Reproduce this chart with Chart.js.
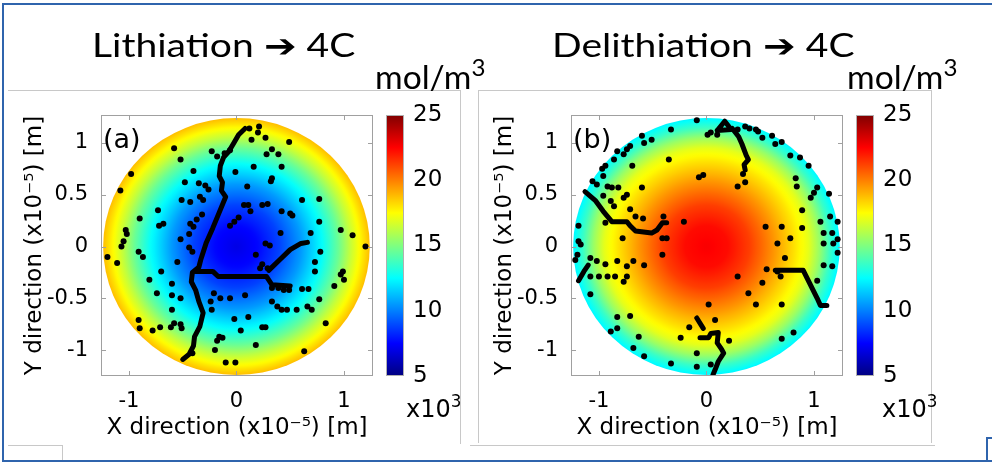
<!DOCTYPE html>
<html>
<head>
<meta charset="utf-8">
<script src="https://cdn.jsdelivr.net/npm/chart.js@4.4.0/dist/chart.umd.min.js"></script>
<style>
body { margin: 0; width: 992px; height: 462px; overflow: hidden; background: #fff; position: relative; font-family: "DejaVu Sans"; }
canvas { position: absolute; left: 0; top: 0; }
.txt { position: absolute; line-height: 1; white-space: nowrap; color: #000; }
.head { font-family: Lato; font-size: 32px; transform: scaleX(1.22); transform-origin: left top; }
.head sup { font-size: 0.72em; vertical-align: 0.55em; line-height: 0; }
.lab { font-size: 27px; }
.exp { font-size: 24px; }
.exp sup { font-size: 0.7em; vertical-align: 0.6em; line-height: 0; }
.line { position: absolute; }
</style>
</head>
<body>
<div class="line" style="left:2px;top:3px;width:990px;height:455px;border-top:2px solid #2f64ad;border-left:2px solid #2f64ad;border-bottom:2px solid #2f64ad;"></div>
<div class="line" style="left:986px;top:437px;width:6px;height:22px;border-top:2px solid #2f64ad;border-left:2px solid #2f64ad;"></div>
<div class="line" style="left:8px;top:90px;width:452px;height:353px;border-top:1px solid #c8c8c8;border-right:1px solid #c8c8c8;"></div>
<div class="line" style="left:8px;top:445px;width:54px;height:14px;border-top:1px solid #c8c8c8;border-right:1px solid #c8c8c8;"></div>
<div class="line" style="left:478px;top:90px;width:452px;height:352px;border-top:1px solid #c8c8c8;border-left:1px solid #c8c8c8;border-right:1px solid #c8c8c8;"></div>
<div class="line" style="left:470px;top:445px;width:465px;height:0;border-top:1px solid #c8c8c8;"></div>

<canvas id="lith" width="992" height="462"></canvas>
<canvas id="delith" width="992" height="462"></canvas>

<div class="txt head" style="left:92px;top:29px;">Lithiation ➔ 4C</div>
<div class="txt head" style="left:552px;top:29px;">Delithiation ➔ 4C</div>
<div class="txt head" style="left:375px;top:61px;transform:scaleX(1.05);">mol/m<sup>3</sup></div>
<div class="txt head" style="left:847px;top:61px;transform:scaleX(1.05);">mol/m<sup>3</sup></div>
<div class="txt lab" style="left:103px;top:125px;">(a)</div>
<div class="txt lab" style="left:573px;top:125px;">(b)</div>
<div class="txt exp" style="left:406px;top:397px;">x10<sup>3</sup></div>
<div class="txt exp" style="left:882px;top:397px;">x10<sup>3</sup></div>

<script>
// radial concentration profile (x10^3 mol/m^3)
const radius = [0, 0.2, 0.4, 0.6, 0.8, 0.95, 1.05, 1.15, 1.24];
const lithConc = [7.0, 7.6, 8.8, 10.5, 12.6, 14.6, 16.2, 17.6, 18.8];
const delithConc = [22.6, 22.3, 21.3, 19.8, 18.2, 17.0, 15.5, 13.6, 12.3];

const cbarMin = 5, cbarMax = 25;
const xTicks = [-1, 0, 1];
const yTicks = [-1, -0.5, 0, 0.5, 1];

// lithiation: crack paths and isolated crack sites
const lithCracks = [
    [[0.08,1.14],[0.02,1.08],[-0.03,0.99],[-0.07,0.92],[-0.12,0.86],[-0.15,0.78],[-0.16,0.68],[-0.13,0.62],[-0.14,0.54],[-0.10,0.48],[-0.16,0.33],[-0.22,0.18],[-0.28,0.04],[-0.33,-0.12],[-0.35,-0.20],[-0.41,-0.25],[-0.42,-0.34],[-0.38,-0.42],[-0.35,-0.53],[-0.31,-0.64],[-0.34,-0.77],[-0.39,-0.87],[-0.40,-0.96],[-0.44,-1.04],[-0.50,-1.09]],
    [[-0.38,-0.24],[-0.22,-0.24],[-0.17,-0.29],[0.00,-0.29],[0.28,-0.29],[0.33,-0.37],[0.50,-0.38]],
    [[0.30,-0.23],[0.40,-0.13],[0.50,-0.03],[0.60,0.03],[0.66,0.04]]
];
const lithDots = [
    [0.21,1.16],[0.12,1.14],[0.20,1.10],[0.14,1.03],[0.27,1.05],[0.49,1.01],[-0.58,0.95],
    [-0.23,0.92],[-0.18,0.87],[-0.11,0.90],[-0.06,0.93],
    [0.33,0.94],[0.28,0.89],[0.39,0.89],[-0.52,0.84],[0.42,0.77],[0.16,0.77],[-0.01,0.72],[-0.40,0.73],[-0.98,0.70],
    [0.33,0.66],[0.32,0.63],[-0.48,0.62],[-0.35,0.61],[-0.29,0.59],[-0.26,0.55],[0.10,0.58],[-1.08,0.54],
    [-0.51,0.45],[-0.43,0.43],[-0.34,0.48],[-0.31,0.45],[0.61,0.45],[0.77,0.46],
    [0.07,0.40],[0.11,0.40],[0.24,0.40],[0.29,0.41],[-0.73,0.35],[-0.90,0.27],[-0.32,0.31],[-0.37,0.26],
    [0.13,0.34],[0.02,0.28],[-0.02,0.24],[-0.06,0.20],[0.42,0.34],[0.50,0.32],[0.52,0.30],[0.77,0.24],
    [-0.72,0.20],[-0.68,0.22],[-0.43,0.22],[-0.40,0.19],
    [-1.03,0.16],[-1.02,0.12],[-1.05,0.05],[-1.07,0.00],[-0.44,0.12],[-0.52,0.07],
    [0.41,0.13],[0.69,0.13],[0.97,0.16],[1.08,0.11],[0.27,0.03],[0.31,0.01],[1.20,0.00],
    [-0.44,-0.01],[-0.41,-0.05],[-0.91,-0.05],[-0.87,-0.10],[0.18,-0.08],[0.78,-0.05],
    [-1.20,-0.10],[-1.11,-0.16],[-0.55,-0.15],[0.24,-0.17],[0.22,-0.21],[0.29,-0.21],[0.73,-0.15],[-0.70,-0.24],
    [0.99,-0.24],[0.97,-0.27],[1.00,-0.32],[-0.81,-0.32],[-0.60,-0.36],[0.73,-0.24],
    [0.91,-0.38],[-0.74,-0.45],[-0.60,-0.47],[-0.52,-0.50],[-0.21,-0.45],[-0.15,-0.50],[-0.06,-0.50],[0.08,-0.47],
    [0.33,-0.40],[0.39,-0.40],[0.44,-0.42],[0.49,-0.42],[0.61,-0.41],[0.67,-0.41],[0.77,-0.51],
    [-0.60,-0.61],[-0.24,-0.53],[0.33,-0.53],[0.38,-0.58],[0.42,-0.61],[0.47,-0.61],[0.56,-0.61],[0.66,-0.58],[0.70,-0.61],[-0.23,-0.61],
    [-0.02,-0.70],[0.11,-0.68],[-0.91,-0.71],[-0.90,-0.79],[-0.78,-0.81],[-0.71,-0.78],[-0.61,-0.78],[-0.58,-0.74],[-0.52,-0.75],[-0.51,-0.79],
    [0.83,-0.74],[0.04,-0.81],[0.24,-0.78],[0.27,-0.78],[-0.16,-0.87],[-0.13,-0.88],[-0.18,-0.91],[0.18,-0.95],[-0.20,-1.00],[0.63,-1.01],[-0.10,-1.12],[-0.01,-1.12],[-0.41,-1.03]
];

// delithiation
const delithCracks = [
    [[0.10,1.12],[0.17,1.21],[0.23,1.13],[0.10,1.12]],
    [[0.24,1.14],[0.30,1.06],[0.33,0.99],[0.37,0.88],[0.39,0.84],[0.35,0.79],[0.36,0.74]],
    [[-1.13,0.53],[-1.03,0.44],[-0.96,0.34],[-0.88,0.24],[-0.74,0.24],[-0.71,0.20],[-0.66,0.15],[-0.51,0.13],[-0.46,0.16],[-0.41,0.23],[-0.37,0.23]],
    [[-1.19,-0.33],[-1.14,-0.24],[-1.10,-0.18]],
    [[0.64,-0.23],[0.90,-0.23],[1.03,-0.50],[1.06,-0.57],[1.12,-0.57]],
    [[-0.09,-0.69],[-0.03,-0.79]],
    [[-0.06,-0.88],[0.02,-0.88],[0.04,-0.84],[0.11,-0.83],[0.10,-0.93],[0.14,-0.99],[0.16,-1.03],[0.11,-1.11],[0.08,-1.19],[0.06,-1.24]]
];
const delithDots = [
    [-0.09,1.22],[0.01,1.08],[0.04,1.10],[0.10,1.08],[0.29,1.13],[0.40,1.14],[0.36,1.16],[0.46,1.13],[0.48,1.11],[0.52,1.05],[0.61,1.07],[0.64,0.99],[0.70,1.01],[0.78,0.88],[0.87,0.86],[0.95,0.78],
    [-0.33,1.13],[-0.51,1.03],[-0.60,1.07],[-0.58,1.00],[-0.71,0.97],[-0.74,0.94],[-0.77,0.89],[-0.83,0.92],[-0.86,0.84],[-0.94,0.78],[-0.97,0.75],[-0.69,0.78],[-0.35,0.84],
    [-0.07,0.67],[-0.03,0.69],[0.29,0.58],[0.36,0.62],[0.34,0.70],[0.83,0.66],[0.84,0.58],[1.03,0.57],[1.00,0.52],[0.97,0.47],[1.14,0.51],
    [-1.06,0.63],[-1.02,0.60],[-0.96,0.68],[-0.92,0.58],[-0.88,0.57],[-0.82,0.57],[-0.96,0.49],[-0.89,0.44],[-0.74,0.50],[-0.77,0.47],[-0.60,0.57],
    [-0.86,0.39],[-0.71,0.36],[-0.66,0.29],[-0.59,0.27],[-0.21,0.24],[-0.40,0.29],[-0.94,0.23],[-1.19,0.20],
    [0.89,0.35],[1.06,0.24],[1.15,0.29],[1.22,0.24],[0.55,0.19],[0.70,0.19],[0.89,0.18],
    [-0.78,0.08],[-0.41,0.08],[-0.37,0.08],[1.09,0.13],[1.17,0.13],[1.22,0.07],[-1.19,0.05],[-1.17,0.02],[0.66,0.03],[0.78,0.08],[0.73,-0.11],[-0.41,-0.08],[1.09,0.03],[1.18,0.03],[1.22,-0.06],
    [-1.20,-0.08],[-1.22,-0.13],[-1.08,-0.11],[-1.02,-0.14],[-0.94,-0.17],[-0.83,-0.14],[-0.68,-0.14],[-0.58,-0.18],[-0.74,-0.19],[0.56,-0.22],[0.66,-0.24],[1.09,-0.18],[1.17,-0.19],
    [-1.08,-0.29],[-1.00,-0.29],[-0.92,-0.29],[-0.85,-0.29],[-0.74,-0.29],[-0.77,-0.34],[0.29,-0.29],[0.52,-0.35],[0.69,-0.29],[1.03,-0.33],
    [-1.08,-0.46],[0.39,-0.45],[0.46,-0.56],[0.70,-0.56],[0.02,-0.56],[-0.83,-0.68],[-0.71,-0.67],[-0.16,-0.78],[0.08,-0.71],[-0.89,-0.82],[-0.83,-0.79],[0.81,-0.83],[0.70,-0.89],[-0.63,-0.87],[-0.24,-0.88],[0.21,-0.91],[-0.68,-0.98],[-0.58,-1.06],[-0.09,-1.03],[-0.33,-1.13],[-0.09,-1.16],[0.04,-1.14]
];

Chart.defaults.font.family = "DejaVu Sans";
Chart.defaults.color = '#000';

function jet(v) {
    v = Math.max(0, Math.min(1, v));
    const f = d => Math.round(255 * Math.max(0, Math.min(1, 1.5 - Math.abs(4 * v - d))));
    return `rgb(${f(3)},${f(2)},${f(1)})`;
}
const toUnit = c => (c - cbarMin) / (cbarMax - cbarMin);

// coloured particle, plot box with inward ticks, colour bar
const particlePlugin = {
    id: 'particle',
    beforeDatasetsDraw(chart) {
        const { ctx, scales: { x, y } } = chart;
        const conc = chart.config.options.conc;
        const R = radius[radius.length - 1];
        const cx = x.getPixelForValue(0), cy = y.getPixelForValue(0);
        const rx = x.getPixelForValue(R) - cx, ry = cy - y.getPixelForValue(R);
        ctx.save();
        ctx.translate(cx, cy);
        ctx.scale(1, ry / rx);
        const g = ctx.createRadialGradient(0, 0, 0, 0, 0, rx);
        for (let i = 0; i < radius.length - 1; i++) {
            for (let k = 0; k < 6; k++) {
                const t = k / 6;
                const r = radius[i] + (radius[i + 1] - radius[i]) * t;
                const c = conc[i] + (conc[i + 1] - conc[i]) * t;
                g.addColorStop(r / R, jet(toUnit(c)));
            }
        }
        g.addColorStop(1, jet(toUnit(conc[conc.length - 1])));
        ctx.fillStyle = g;
        ctx.beginPath();
        ctx.arc(0, 0, rx, 0, Math.PI * 2);
        ctx.fill();
        ctx.restore();
    },
    afterDatasetsDraw(chart) {
        const { ctx, chartArea: a, scales: { x, y, c } } = chart;
        ctx.save();
        ctx.strokeStyle = '#a0a0a0';
        ctx.lineWidth = 1;
        ctx.strokeRect(a.left + 0.5, a.top + 0.5, a.width - 1, a.height - 1);
        ctx.beginPath();
        x.ticks.forEach(t => {
            const p = Math.round(x.getPixelForValue(t.value)) + 0.5;
            ctx.moveTo(p, a.bottom); ctx.lineTo(p, a.bottom - 5);
            ctx.moveTo(p, a.top); ctx.lineTo(p, a.top + 5);
        });
        y.ticks.forEach(t => {
            const p = Math.round(y.getPixelForValue(t.value)) + 0.5;
            ctx.moveTo(a.left, p); ctx.lineTo(a.left + 5, p);
            ctx.moveTo(a.right, p); ctx.lineTo(a.right - 5, p);
        });
        ctx.stroke();

        const top = c.getPixelForValue(cbarMax), bot = c.getPixelForValue(cbarMin);
        const left = c.left + 13, w = 18;
        const g = ctx.createLinearGradient(0, bot, 0, top);
        for (let v = 0; v <= 1.0001; v += 0.025) g.addColorStop(Math.min(1, v), jet(v));
        ctx.fillStyle = g;
        ctx.fillRect(left, top, w, bot - top);
        ctx.strokeStyle = '#b0b0b0';
        ctx.strokeRect(left + 0.5, top + 0.5, w - 1, bot - top - 1);
        ctx.restore();
    }
};

function makeChart(id, offsetX, conc, cracks, dots) {
    const datasets = cracks.map(path => ({
        data: path,
        showLine: true,
        borderColor: '#000',
        borderWidth: 5,
        borderJoinStyle: 'round',
        borderCapStyle: 'round',
        pointRadius: 0
    }));
    datasets.push({
        data: dots,
        backgroundColor: '#000',
        borderWidth: 0,
        pointRadius: 3
    });
    return new Chart(document.getElementById(id), {
        type: 'scatter',
        data: { datasets },
        options: {
            conc,
            responsive: false,
            animation: false,
            devicePixelRatio: 1,
            layout: { padding: { left: offsetX, top: 115, bottom: 0, right: 992 - offsetX - 373 - 100 } },
            plugins: { legend: { display: false }, tooltip: { enabled: false } },
            scales: {
                x: {
                    type: 'linear', position: 'bottom', min: -1.26, max: 1.27,
                    afterBuildTicks: s => { s.ticks = xTicks.map(v => ({ value: v })); },
                    afterFit: s => { s.height = 86; },
                    grid: { display: false }, border: { display: false },
                    ticks: { font: { size: 21 }, padding: 5, callback: v => String(v) },
                    title: { display: true, text: 'X direction (x10⁻⁵) [m]', font: { size: 23 }, padding: { bottom: 20 } }
                },
                y: {
                    type: 'linear', position: 'left', min: -1.25, max: 1.27,
                    afterBuildTicks: s => { s.ticks = yTicks.map(v => ({ value: v })); },
                    afterFit: s => { s.width = 101; },
                    grid: { display: false }, border: { display: false },
                    ticks: { font: { size: 21 }, padding: 5, callback: v => String(v) },
                    title: { display: true, text: 'Y direction (x10⁻⁵) [m]', font: { size: 23 }, padding: { top: 21 } }
                },
                c: {
                    type: 'linear', position: 'right', min: cbarMin, max: cbarMax,
                    afterFit: s => { s.width = 100; },
                    grid: { display: false }, border: { display: false },
                    ticks: { stepSize: 5, font: { size: 23 }, padding: 32 }
                }
            }
        },
        plugins: [particlePlugin]
    });
}

makeChart('lith', 0, lithConc, lithCracks, lithDots);
makeChart('delith', 470, delithConc, delithCracks, delithDots);
</script>
</body>
</html>
